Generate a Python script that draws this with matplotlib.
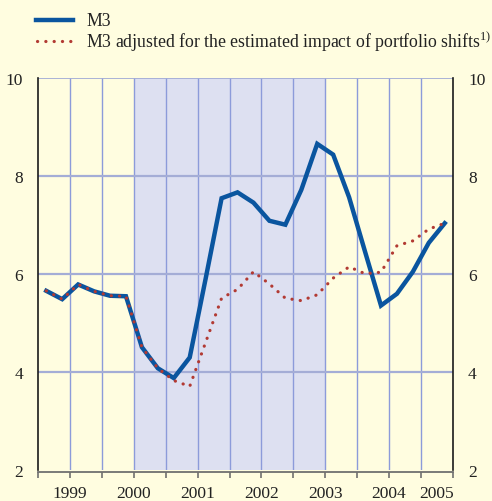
import numpy as np
import matplotlib
matplotlib.use("Agg")
import matplotlib.pyplot as plt
from matplotlib.lines import Line2D

# Quarterly annual growth rates, 1999Q1 - 2005Q2
quarters = [f"{y}Q{q}" for y in range(1999, 2006) for q in range(1, 5)][:26]
m3 = [5.65, 5.48, 5.78, 5.64, 5.55, 5.54, 4.50, 4.07, 3.87, 4.29,
      5.90, 7.54, 7.66, 7.45, 7.08, 7.00, 7.71, 8.65, 8.43, 7.56,
      6.45, 5.35, 5.59, 6.04, 6.63, 7.03]
m3_adjusted = [5.65, 5.48, 5.78, 5.64, 5.55, 5.54, 4.50, 4.07, 3.82, 3.70,
               4.60, 5.50, 5.68, 6.04, 5.79, 5.50, 5.45, 5.57, 5.91, 6.14,
               6.00, 6.03, 6.57, 6.67, 6.91, 7.03]
year_labels = ["1999", "2000", "2001", "2002", "2003", "2004", "2005"]
shaded_period = (2000.5, 2003.5)

BG = "#FFFDE0"
BLUE = "#0A559F"
RED = "#B23A33"

plt.rcParams["font.family"] = ["Liberation Serif", "DejaVu Serif"]

fig = plt.figure(figsize=(4.92, 5.02), dpi=100, facecolor=BG)
ax = fig.add_axes([38.3 / 492, 1 - 470.7 / 502, (452.7 - 38.3) / 492, (470.7 - 78.7) / 502])
ax.set_facecolor(BG)

# quarter midpoints on a decimal-year scale
x = np.array([1999 + (i + 0.5) * 0.25 for i in range(len(quarters))])

ax.axvspan(*shaded_period, color="#DDE0F1", zorder=0, lw=0)

for xv in np.arange(1999.5, 2005.01, 0.5):
    ax.axvline(xv, color="#8C9BDA", lw=1.0, zorder=1)
for yv in [4, 6, 8, 10]:
    ax.axhline(yv, color="#A4ADD6", lw=1.6 if yv != 10 else 1.3, zorder=1)

ax.plot(x, m3, color=BLUE, lw=3.2, solid_joinstyle="miter", zorder=3)
ax.plot(x, m3_adjusted, color=RED, lw=2.3, linestyle=(0, (0.05, 2.55)),
        dash_capstyle="round", zorder=4)

ax.set_xlim(1999.0, 2005.5)
ax.set_ylim(2, 10)

# spines
for s in ["left", "right"]:
    ax.spines[s].set_color("#1a1a1a")
    ax.spines[s].set_linewidth(1.2)
ax.spines["top"].set_visible(False)
ax.spines["bottom"].set_color("#707070")
ax.spines["bottom"].set_linewidth(1.3)
ax.spines["bottom"].set_position(("outward", 2))

# x ticks at half-year marks, year labels centred in each year
ax.set_xticks(np.arange(1999.0, 2005.51, 0.5))
ax.set_xticklabels([])
ax.tick_params(axis="x", direction="out", length=4, width=1.2, color="#707070")
label_pos = [1999.5, 2000.5, 2001.5, 2002.5, 2003.5, 2004.5, 2005.25]
for xp, lab in zip(label_pos, year_labels):
    ax.text(xp, -0.038, lab, transform=ax.get_xaxis_transform(), ha="center",
            va="top", fontsize=12.5, color="#222222")

ax.set_yticks([2, 4, 6, 8, 10])
ax.tick_params(axis="y", length=0, pad=11, labelsize=12.5, labelcolor="#222222",
               left=True, right=True, labelleft=True, labelright=True)

# legend
fig.add_artist(Line2D([36 / 492, 73 / 492], [1 - 21 / 502] * 2, color=BLUE, lw=3.2))
fig.add_artist(Line2D([37 / 492, 73 / 492], [1 - 42 / 502] * 2, color=RED, lw=2.3,
                      linestyle=(0, (0.05, 2.55)), dash_capstyle="round"))
fig.text(86 / 492, 1 - 21 / 502, "M3", va="center", ha="left", fontsize=12.8, color="#222222")
fig.text(86 / 492, 1 - 42 / 502,
         "M3 adjusted for the estimated impact of portfolio shifts$^{\\mathregular{1)}}$",
         va="center", ha="left", fontsize=12.8, color="#222222")

fig.savefig("out.png", dpi=100, facecolor=BG)
